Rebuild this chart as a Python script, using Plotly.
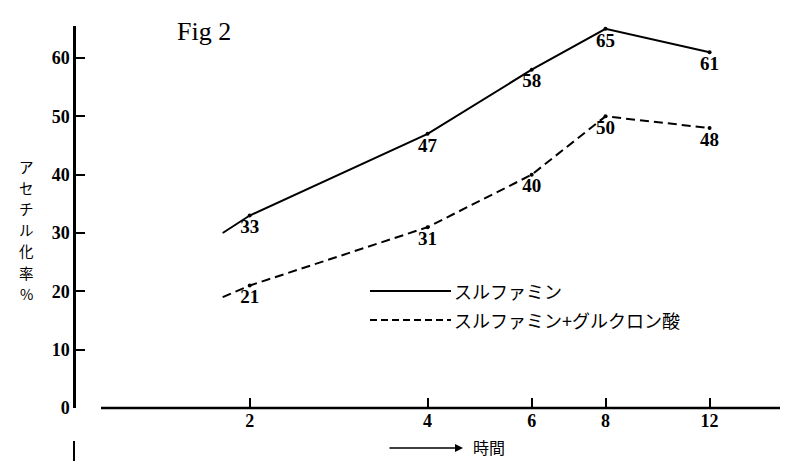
import plotly.graph_objects as go

# ---- data ----
hours = [2, 4, 6, 8, 12]
tick_labels = ["2", "4", "6", "8", "12"]
sulfamine = [33, 47, 58, 65, 61]
sulfamine_glucuronic = [21, 31, 40, 50, 48]
lead_hours = 1.8            # short lead-in stroke drawn before the first point
lead_sulfamine = 30
lead_glucuronic = 19
y_ticks = [0, 10, 20, 30, 40, 50, 60]

name_a = "スルファミン"
name_b = "スルファミン+グルクロン酸"
y_title = "アセチル化率%"
x_title = "時間"
title = "Fig 2"

W, H = 788, 461
L, R, T, B = 68, 0, 18, 61
PW, PH = W - L - R, H - T - B


def px(x):
    return (x - L) / PW


def py(y):
    return (H - B - y) / PH


tick_font = dict(family="Liberation Serif", size=18, color="black", weight="bold")
label_font = dict(family="Liberation Serif", size=19, color="black", weight="bold")
cjk = "Noto Sans CJK JP"

fig = go.Figure()

fig.add_trace(go.Scatter(
    x=[lead_hours] + hours, y=[lead_sulfamine] + sulfamine,
    mode="lines", line=dict(color="black", width=2), hoverinfo="skip"))
fig.add_trace(go.Scatter(
    x=[lead_hours] + hours, y=[lead_glucuronic] + sulfamine_glucuronic,
    mode="lines", line=dict(color="black", width=2, dash="9px,5px"), hoverinfo="skip"))

for vals in (sulfamine, sulfamine_glucuronic):
    fig.add_trace(go.Scatter(
        x=hours, y=vals, mode="markers+text",
        marker=dict(color="black", size=4),
        text=[str(v) for v in vals], textposition="bottom center",
        textfont=label_font))

fig.update_layout(
    template="none",
    width=W, height=H, showlegend=False,
    margin=dict(l=L, r=R, t=T, b=B, pad=0),
    paper_bgcolor="white", plot_bgcolor="white",
    xaxis=dict(type="log", range=[0.0071, 1.2254], tickvals=hours, ticktext=tick_labels,
               ticks="inside", ticklen=10, tickwidth=2, tickcolor="black",
               showline=False, showgrid=False, zeroline=False, automargin=False,
               tickfont=tick_font),
    yaxis=dict(range=[0, 65.49], tickvals=y_ticks,
               ticks="inside", ticklen=9, tickwidth=2, tickcolor="black",
               showline=True, linecolor="black", linewidth=2.5, automargin=False,
               showgrid=False, zeroline=False, tickfont=tick_font),
)

shapes = [
    # x axis line (starts a little right of the y axis)
    dict(type="line", xref="paper", yref="paper", x0=px(93), x1=1, y0=0, y1=0,
         line=dict(color="black", width=2.5)),
    # legend samples
    dict(type="line", xref="paper", yref="paper", x0=px(362), x1=px(443), y0=py(283), y1=py(283),
         line=dict(color="black", width=2)),
    dict(type="line", xref="paper", yref="paper", x0=px(362), x1=px(443), y0=py(312), y1=py(312),
         line=dict(color="black", width=2, dash="7px,4px")),
    # fragment of the next figure at the bottom edge
    dict(type="line", xref="paper", yref="paper", x0=px(66), x1=px(66), y0=py(433), y1=py(461),
         line=dict(color="black", width=2)),
]
fig.update_layout(shapes=shapes)


def note(text, x, y, font, xanchor="center", yanchor="middle"):
    return dict(text=text, x=px(x), y=py(y), xref="paper", yref="paper",
                xanchor=xanchor, yanchor=yanchor, showarrow=False, font=font)


ann = [
    note(title, 196, 24, dict(family="Liberation Serif", size=26, color="black")),
    note(name_a, 444, 283, dict(family=cjk, size=18, color="black"), xanchor="left"),
    note(name_b, 444, 312, dict(family=cjk, size=18, color="black"), xanchor="left"),
    dict(text="", x=px(455), y=py(440), ax=-75, ay=0, xref="paper", yref="paper",
         axref="pixel", ayref="pixel", showarrow=True, arrowhead=2, arrowsize=1,
         arrowwidth=1.6, arrowcolor="black"),
    note(x_title, 463, 439, dict(family=cjk, size=16, color="black"), xanchor="left"),
    note("30", 62, 452, tick_font, xanchor="right", yanchor="top"),
]
# vertical y-axis title, one character per row
for i, ch in enumerate(y_title):
    ann.append(note(ch, 18, 158 + i * 21.2, dict(family=cjk, size=14.5, color="black")))
fig.update_layout(annotations=ann)

fig.write_html("out.html")
